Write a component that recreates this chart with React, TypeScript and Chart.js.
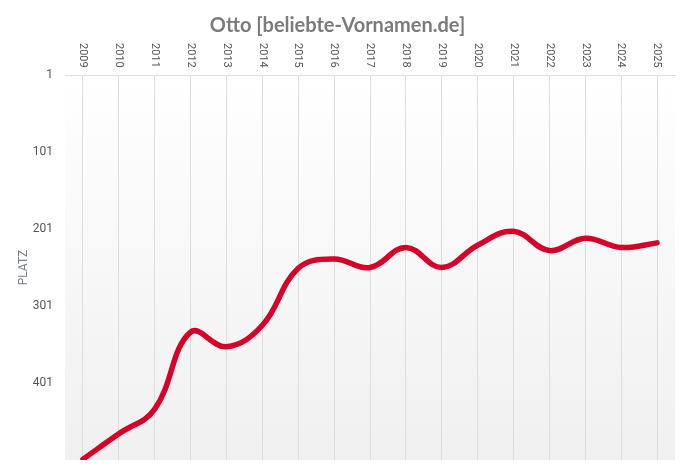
import React, { useEffect, useRef } from "react";
import { Chart, registerables } from "chart.js";

Chart.register(...registerables);

const years = [
  "2009", "2010", "2011", "2012", "2013", "2014", "2015", "2016", "2017",
  "2018", "2019", "2020", "2021", "2022", "2023", "2024", "2025",
];
const ranks = [500, 467, 435, 335, 354, 326, 252, 240, 251, 225, 251, 222, 204, 229, 213, 225, 219];
const rankTicks = [1, 101, 201, 301, 401];

const TITLE = "Otto [beliebte-Vornamen.de]";
const Y_TITLE = "PLATZ";

// light grey gradient behind the plot area only
const plotBackground = {
  id: "plotBackground",
  beforeDraw(chart) {
    const { ctx, chartArea } = chart;
    if (!chartArea) return;
    const g = ctx.createLinearGradient(0, chartArea.top, 0, chartArea.bottom);
    g.addColorStop(0, "#ffffff");
    g.addColorStop(1, "#f0f0f0");
    ctx.save();
    ctx.fillStyle = g;
    ctx.fillRect(
      chartArea.left,
      chartArea.top,
      chartArea.right - chartArea.left,
      chartArea.bottom - chartArea.top
    );
    ctx.restore();
  },
};

// year labels on the top axis, turned clockwise (reading downwards)
const yearLabels = {
  id: "yearLabels",
  afterDraw(chart) {
    const scale = chart.scales.x;
    const { ctx, chartArea } = chart;
    ctx.save();
    ctx.font = "11px Roboto";
    ctx.fillStyle = "#555555";
    ctx.textAlign = "left";
    ctx.textBaseline = "middle";
    scale.ticks.forEach((tick, i) => {
      const x = scale.getPixelForTick(i);
      ctx.save();
      ctx.translate(x, chartArea.top - 32);
      ctx.rotate(Math.PI / 2);
      ctx.fillText(String(scale.getLabelForValue(tick.value)), 0, 0);
      ctx.restore();
    });
    ctx.restore();
  },
};

const RankChart = () => {
  const canvasRef = useRef<HTMLCanvasElement | null>(null);

  useEffect(() => {
    document.body.style.margin = "0";
    const ctx = canvasRef.current.getContext("2d");

    const chart = new Chart(ctx, {
      type: "line",
      data: {
        labels: years,
        datasets: [
          {
            label: "Otto",
            data: ranks,
            borderColor: "#d70029",
            borderWidth: 5.5,
            borderCapStyle: "round",
            borderJoinStyle: "round",
            tension: 0.4,
            pointRadius: 0,
            pointHoverRadius: 0,
            fill: false,
            clip: 0,
          },
        ],
      },
      options: {
        responsive: true,
        maintainAspectRatio: false,
        animation: false,
        layout: { padding: { top: 0, right: 14, bottom: 14, left: 0 } },
        plugins: {
          legend: { display: false },
          tooltip: { enabled: false },
          title: {
            display: true,
            text: TITLE,
            color: "#7b7b7b",
            font: { family: "Lato", size: 20, weight: "bold" },
            padding: { top: 14, bottom: 5 },
          },
        },
        scales: {
          x: {
            position: "top",
            offset: true,
            grid: { color: "#dddddd", offset: false, drawTicks: false },
            border: { color: "#dddddd" },
            ticks: { display: false },
            afterFit(scale) {
              scale.height = 32;
            },
          },
          y: {
            reverse: true,
            min: 1,
            max: 501,
            grid: { display: false, drawTicks: false },
            border: { display: false },
            afterBuildTicks(scale) {
              scale.ticks = rankTicks.map((v) => ({ value: v }));
            },
            ticks: {
              color: "#555555",
              padding: 12,
              font: { family: "Roboto", size: 12 },
            },
            title: {
              display: true,
              text: Y_TITLE,
              color: "#7a7f8c",
              padding: { top: 17, bottom: 0 },
              font: { family: "Roboto", size: 12 },
            },
            afterFit(scale) {
              scale.width = 65;
              scale.paddingTop = 0;
              scale.paddingBottom = 0;
            },
          },
        },
      },
      plugins: [plotBackground, yearLabels],
    });

    return () => {
      chart.destroy();
    };
  }, []);

  return (
    <div style={{ position: "relative", width: 689, height: 474 }}>
      <canvas ref={canvasRef} />
    </div>
  );
};

export default function App() {
  return <RankChart />;
}
